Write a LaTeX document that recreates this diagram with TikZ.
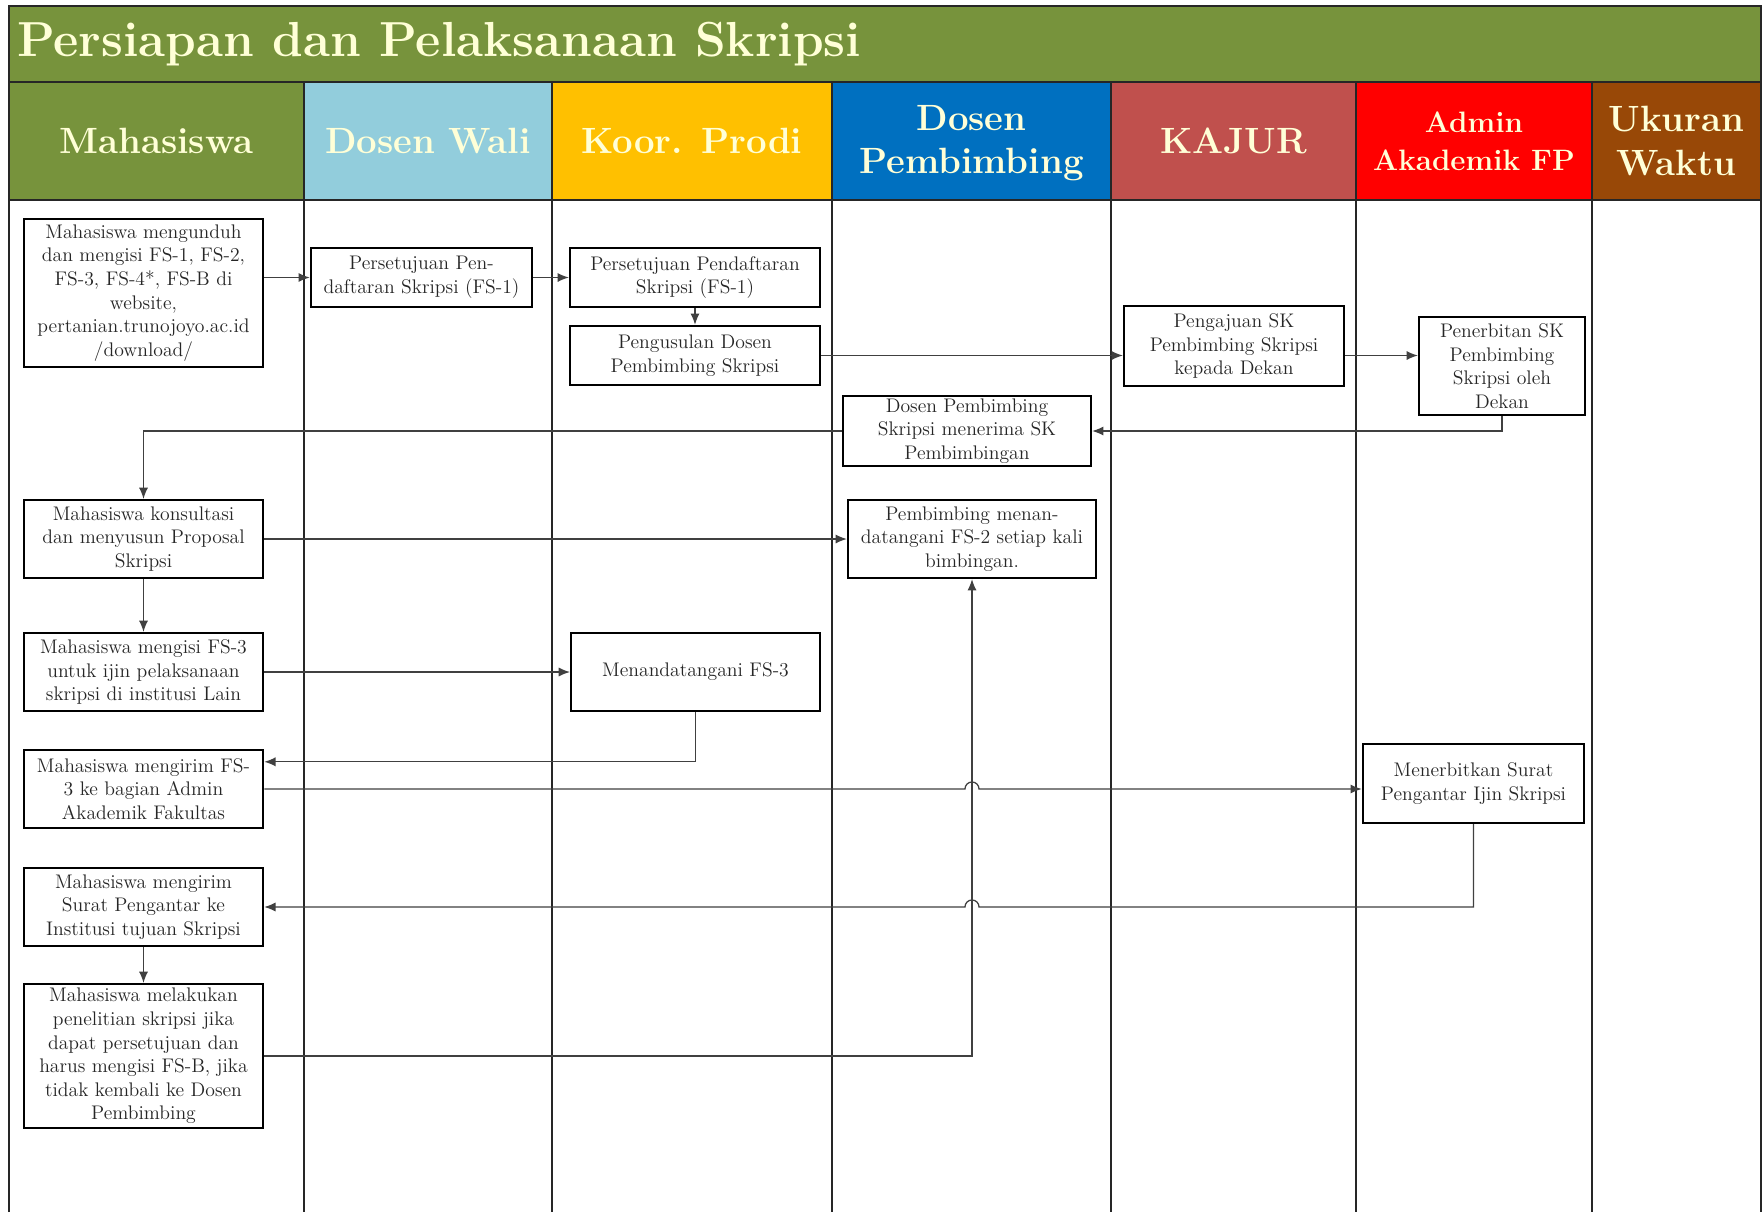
\documentclass[tikz,border=0pt]{standalone}
\usepackage{tikz}
\usetikzlibrary{arrows,arrows.meta}
\definecolor{titlegreen}{RGB}{119,147,60}
\definecolor{waliblue}{RGB}{146,205,220}
\definecolor{prodigold}{RGB}{255,192,0}
\definecolor{pembblue}{RGB}{0,112,192}
\definecolor{kajurred}{RGB}{192,80,77}
\definecolor{adminred}{RGB}{255,0,0}
\definecolor{waktubrown}{RGB}{152,72,7}
\definecolor{headtext}{RGB}{255,255,215}
\tikzset{
  >={Latex[length=8pt,width=6.5pt]},
  {lane line/.style} ={line width=1.2pt, black!85},
  {lane head/.style} ={text=headtext, align=center,
                  font=\fontsize{26}{31}\selectfont\bfseries},
  {proc/.style} ={draw, line width=1.6pt, align=center, inner sep=2pt,
                  text=black!85, font=\fontsize{14}{16.8}\selectfont},
  {student/.style} ={proc, minimum width=5.98cm, minimum height=1.95cm},
  {flow/.style} ={->, line width=0.9pt, draw=black!75},
}
\begin{document}
\begin{tikzpicture}[x=0.025cm, y=-0.025cm]
\fill[white] (0,0) rectangle (1763,1212);
\useasboundingbox (0,0) rectangle (1763,1212);
% title band and lane heads
\fill[titlegreen] (9,6) rectangle (1761,82);
\foreach \a/\b/\c in {9/304/titlegreen, 304/552/waliblue, 552/832/prodigold,
    832/1111/pembblue, 1111/1356/kajurred, 1356/1592/adminred, 1592/1761/waktubrown}
  \fill[\c] (\a,82) rectangle (\b,200);
\node[anchor=west, inner sep=0, text=headtext,
      font=\fontsize{35}{40}\selectfont\bfseries] (title) at (17,44) {Persiapan dan Pelaksanaan Skripsi};
\node[lane head] (hmhs) at (156.5,141) {Mahasiswa};
\node[lane head] (hwali) at (428,141) {Dosen Wali};
\node[lane head] (hprodi) at (692,141) {Koor. Prodi};
\node[lane head] (hpemb) at (971.5,143) {Dosen\\Pembimbing};
\node[lane head] (hkajur) at (1233.5,141) {KAJUR};
\node[lane head, font=\fontsize{21}{27}\selectfont\bfseries] (hadmin) at (1474,141) {Admin\\Akademik FP};
\node[lane head] (hwaktu) at (1676.5,141) {Ukuran\\Waktu};
% frame and lanes
\draw[lane line] (9,1212) -- (9,6) -- (1761,6) -- (1761,1212);
\draw[lane line] (9,82) -- (1761,82);
\draw[lane line] (9,200) -- (1761,200);
\foreach \x in {304,552,832,1111,1356,1592}
  \draw[lane line] (\x,82) -- (\x,1212);
% steps
\node[student, minimum height=3.7cm] (m1) at (143.5,293) {Mahasiswa mengunduh\\dan mengisi FS-1, FS-2,\\FS-3, FS-4*, FS-B di\\website,\\pertanian.trunojoyo.ac.id\\/download/};
\node[proc, minimum width=5.53cm, minimum height=1.48cm] (w1) at (421.5,277.5) {Persetujuan Pen-\\daftaran Skripsi (FS-1)};
\node[proc, minimum width=6.25cm, minimum height=1.48cm] (k1) at (695,277.5) {Persetujuan Pendaftaran\\Skripsi (FS-1)};
\node[proc, minimum width=6.25cm, minimum height=1.48cm] (k2) at (695,355.5) {Pengusulan Dosen\\Pembimbing Skripsi};
\node[proc, minimum width=5.5cm, minimum height=2cm] (j1) at (1234,346) {Pengajuan SK\\Pembimbing Skripsi\\kepada Dekan};
\node[proc, minimum width=4.15cm, minimum height=2.45cm] (a1) at (1502,366) {Penerbitan SK\\Pembimbing\\Skripsi oleh\\Dekan};
\node[proc, minimum width=6.2cm, minimum height=1.5cm] (p1) at (967,431) {Dosen Pembimbing\\Skripsi menerima SK\\Pembimbingan};
\node[student] (m2) at (143.5,539) {Mahasiswa konsultasi\\dan menyusun Proposal\\Skripsi};
\node[proc, minimum width=6.2cm, minimum height=1.95cm] (p2) at (972,539) {Pembimbing menan-\\datangani FS-2 setiap kali\\bimbingan.};
\node[student] (m3) at (143.5,672) {Mahasiswa mengisi FS-3\\untuk ijin pelaksanaan\\skripsi di institusi Lain};
\node[proc, minimum width=6.22cm, minimum height=1.95cm] (k3) at (695.5,672) {Menandatangani FS-3};
\node[student] (m4) at (143.5,789) {Mahasiswa mengirim FS-\\3 ke bagian Admin\\Akademik Fakultas};
\node[proc, minimum width=5.53cm, minimum height=1.98cm] (a2) at (1473.5,783.5) {Menerbitkan Surat\\Pengantar Ijin Skripsi};
\node[student] (m5) at (143.5,907) {Mahasiswa mengirim\\Surat Pengantar ke\\Institusi tujuan Skripsi};
\node[student, minimum height=3.6cm] (m6) at (143.5,1056) {Mahasiswa melakukan\\penelitian skripsi jika\\dapat persetujuan dan\\harus mengisi FS-B, jika\\tidak kembali ke Dosen\\Pembimbing};
% connectors
\draw[flow] (m1.east |- w1.west) -- (w1.west);
\draw[flow] (w1.east) -- (k1.west);
\draw[flow] (k1.south) -- (k2.north);
\draw[flow] (k2.east) -- (k2.east -| j1.west);
\draw[flow] (j1.east |- k2.east) -- (a1.west |- k2.east);
\draw[flow] (a1.south) |- (p1.east);
\draw[flow] (p1.west) -| (m2.north);
\draw[flow] (m2.east) -- (p2.west);
\draw[flow] (m2.south) -- (m3.north);
\draw[flow] (m3.east) -- (k3.west);
\draw[flow] (k3.south) |- ([yshift=0.68cm]m4.east);
\draw[flow] (m4.east) -- ([xshift=-5pt]p2.south |- m4.east)
  arc[start angle=180, end angle=0, radius=5pt] -- (m4.east -| a2.west);
\draw[flow] (a2.south) -- (a2.south |- m5.east) -- ([xshift=5pt]p2.south |- m5.east)
  arc[start angle=0, end angle=180, radius=5pt] -- (m5.east);
\draw[flow] (m5.south) -- (m6.north);
\draw[flow] (m6.east) -| (p2.south);
\end{tikzpicture}
\end{document}
